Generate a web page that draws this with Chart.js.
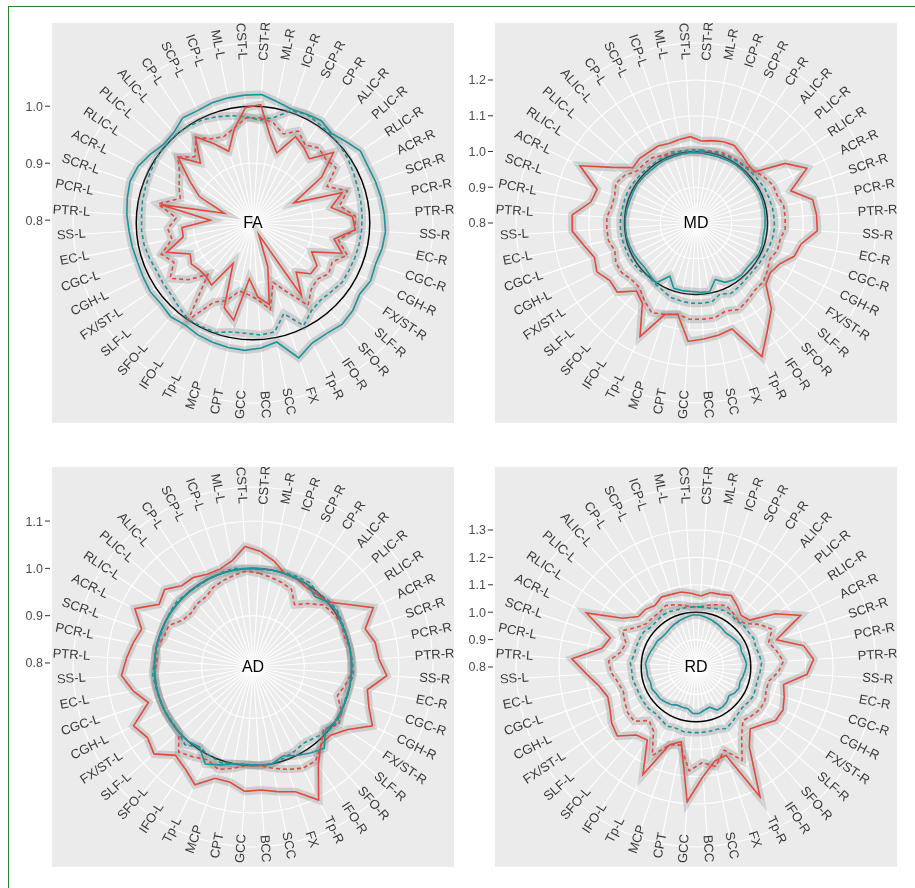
<!DOCTYPE html>
<html>
<head>
<meta charset="utf-8">
<script src="https://cdn.jsdelivr.net/npm/chart.js@4.4.1/dist/chart.umd.min.js"></script>
<style>
  html, body { margin: 0; padding: 0; background: #fff; overflow: hidden; }
  #page { position: relative; width: 915px; height: 888px; overflow: hidden; }
  #frame { position: absolute; left: 8px; top: 6px; width: 1000px; height: 1000px;
           border-left: 1.5px solid #2f7d32; border-top: 1.5px solid #2f7d32; }
  canvas { position: absolute; }
</style>
</head>
<body>
<div id="page">
  <div id="frame"></div>
  <canvas id="fa" width="447" height="400" style="left:7px;top:23px;width:447px;height:400px"></canvas>
  <canvas id="md" width="447" height="400" style="left:450px;top:23px;width:447px;height:400px"></canvas>
  <canvas id="ad" width="447" height="400" style="left:7px;top:467px;width:447px;height:400px"></canvas>
  <canvas id="rd" width="447" height="400" style="left:450px;top:467px;width:447px;height:400px"></canvas>
</div>
<script>
// tracts, clockwise from the top
const LABELS = ['CST-R','ML-R','ICP-R','SCP-R','CP-R','ALIC-R','PLIC-R','RLIC-R','ACR-R','SCR-R',
  'PCR-R','PTR-R','SS-R','EC-R','CGC-R','CGH-R','FX/ST-R','SLF-R','SFO-R','IFO-R','Tp-R',
  'FX','SCC','BCC','GCC','CPT','MCP',
  'Tp-L','IFO-L','SFO-L','SLF-L','FX/ST-L','CGH-L','CGC-L','EC-L','SS-L','PTR-L','PCR-L',
  'SCR-L','ACR-L','RLIC-L','PLIC-L','ALIC-L','CP-L','SCP-L','ICP-L','ML-L','CST-L'];

// FA
const FA_RED = [1.003,0.95,0.925,0.964,0.955,0.945,0.983,0.94,0.875,0.96,0.935,0.97,0.975,0.94,0.96,0.91,
  0.93,0.93,0.91,0.948,0.818,0.876,0.941,0.925,0.893,0.969,0.952,0.874,0.926,0.92,0.92,0.925,0.918,0.955,
  0.92,0.92,0.87,0.96,0.848,0.90,0.929,0.970,0.935,0.977,0.95,0.928,0.963,0.998];
const FA_RED_DASH = [0.98,0.975,0.96,0.975,0.96,0.97,0.965,0.97,0.94,0.97,0.95,0.975,0.975,0.948,0.97,0.95,
  0.955,0.945,0.95,0.969,0.93,0.905,0.95,0.93,0.921,0.917,0.939,0.95,1.0,0.915,0.946,0.97,0.95,0.965,0.94,
  0.945,0.93,0.965,0.93,0.94,0.95,0.97,0.95,0.975,0.96,0.955,0.965,0.98];
const FA_TEAL = [1.021,1.012,1.006,1.008,1.011,1.004,1.012,1.022,1.020,1.022,1.024,1.026,1.028,1.026,1.022,
  1.025,1.020,1.028,1.032,1.028,1.030,1.045,1.008,1.015,1.019,1.018,1.016,1.014,1.010,1.014,1.010,1.012,
  1.010,1.009,1.011,1.013,1.017,1.020,1.023,1.020,1.012,1.004,1.006,1.017,1.015,1.018,1.019,1.020];
const FA_TEAL_DASH = [0.976,0.984,1.003,1.008,1.004,1.002,0.999,0.996,0.992,0.989,0.988,0.987,0.986,0.985,
  0.984,0.983,0.983,0.978,0.975,0.980,0.996,0.963,0.990,0.992,0.989,0.990,0.998,0.998,0.999,0.992,0.986,
  0.985,0.984,0.987,0.990,0.991,0.991,0.993,0.994,0.996,0.999,1.000,1.001,0.999,0.997,0.992,0.987,0.982];
const FA_TICKS = [0.8, 0.9, 1.0];

// MD
const MD_RED = [1.030,1.035,1.040,1.042,1.03,1.02,1.016,1.10,1.146,1.08,1.133,1.138,1.14,1.10,1.09,1.06,
  1.05,1.06,1.12,1.16,1.217,1.113,1.12,1.125,1.132,1.061,1.07,1.154,1.07,1.053,1.093,1.09,1.109,1.10,1.12,
  1.147,1.147,1.10,1.092,1.162,1.08,1.035,1.04,1.038,1.040,1.035,1.038,1.042];
const MD_RED_DASH = [1.00,1.005,1.01,1.01,1.01,1.01,1.02,1.03,1.04,1.04,1.05,1.05,1.05,1.04,1.04,1.03,1.04,
  1.05,1.05,1.06,1.07,1.06,1.07,1.07,1.07,1.06,1.07,1.08,1.06,1.04,1.04,1.05,1.05,1.04,1.05,1.05,1.05,1.04,
  1.04,1.05,1.04,1.02,1.02,1.02,1.01,1.01,1.005,1.00];
const MD_TEAL = [0.996,0.995,0.995,0.996,0.997,0.996,0.995,0.996,0.997,0.996,0.995,0.994,0.993,0.992,0.995,
  0.996,0.992,0.99,0.993,0.991,0.985,0.967,0.996,0.994,0.992,0.993,0.993,0.966,1.002,0.995,0.99,0.992,0.995,
  0.996,0.998,0.998,0.998,0.997,0.995,0.996,0.997,0.995,0.994,0.995,0.996,0.996,0.997,0.998];
const MD_TEAL_DASH = [1.005,1.004,1.005,1.006,1.008,1.008,1.01,1.012,1.015,1.016,1.018,1.019,1.02,1.018,
  1.015,1.012,1.01,1.008,1.01,1.015,1.02,1.01,1.025,1.025,1.025,1.022,1.02,1.01,1.005,1.0,1.005,1.008,1.01,
  1.01,1.012,1.012,1.012,1.01,1.01,1.01,1.008,1.006,1.005,1.005,1.006,1.005,1.005,1.005];
const MD_TICKS = [0.8, 0.9, 1.0, 1.1, 1.2];

// AD
const AD_RED = [1.036,1.02,1.0,0.999,0.994,0.996,1.0,1.03,1.075,1.042,1.055,1.058,1.075,1.038,1.05,1.073,
  1.03,1.01,1.009,1.04,1.105,1.07,1.06,1.052,1.055,1.04,1.04,1.069,1.05,1.04,1.07,1.06,1.073,1.025,1.05,
  1.07,1.06,1.05,1.04,1.07,1.03,1.04,1.02,1.019,1.01,1.01,1.02,1.047];
const AD_RED_DASH = [0.99,0.985,0.98,0.975,0.95,0.97,0.99,0.995,1.0,0.995,1.0,1.0,1.0,0.99,0.98,1.0,1.01,
  0.99,1.01,1.03,1.03,1.02,1.01,1.0,1.0,1.01,1.02,1.01,1.02,1.03,1.0,1.0,1.0,1.0,1.0,1.0,0.995,1.0,0.99,
  0.99,0.97,0.965,0.97,0.97,0.98,0.985,0.99,0.995];
const AD_TEAL = [1.0,1.0,1.0,1.0,1.0,0.99,1.0,1.005,1.0,1.0,1.0,1.0,1.0,1.0,1.0,1.0,1.0,0.995,1.02,1.01,
  1.0,0.99,1.0,1.0,0.998,1.0,1.01,1.02,0.995,1.0,1.0,1.0,1.0,1.0,1.0,1.0,1.0,1.0,1.0,1.0,1.0,1.0,1.0,1.0,
  1.0,1.0,1.0,1.0];
const AD_TEAL_DASH = [0.998,1.0,1.002,1.004,1.006,1.0,1.004,1.006,1.002,1.0,1.0,1.002,1.004,1.0,0.998,1.002,
  1.004,1.0,0.99,0.985,0.99,0.995,1.0,1.0,0.998,1.0,1.005,1.0,0.995,1.01,1.0,0.998,1.0,1.0,1.002,1.004,
  1.0,1.0,0.998,1.0,1.002,1.004,1.0,0.998,1.0,1.002,1.004,1.0];
const AD_TICKS = [0.8, 0.9, 1.0, 1.1];

// RD
const RD_RED = [1.06,1.077,1.08,1.091,1.07,1.05,1.06,1.15,1.226,1.11,1.2,1.23,1.206,1.126,1.14,1.154,1.15,
  1.12,1.10,1.15,1.328,1.14,1.15,1.2,1.293,1.078,1.1,1.238,1.12,1.13,1.182,1.17,1.15,1.14,1.16,1.2,1.254,
  1.15,1.13,1.246,1.12,1.079,1.08,1.07,1.085,1.08,1.079,1.07];
const RD_RED_DASH = [1.02,1.03,1.04,1.05,1.04,1.03,1.04,1.08,1.11,1.08,1.10,1.12,1.10,1.07,1.07,1.08,1.08,
  1.07,1.06,1.10,1.18,1.12,1.17,1.15,1.18,1.09,1.10,1.16,1.08,1.06,1.10,1.10,1.09,1.08,1.09,1.11,1.12,1.08,
  1.07,1.10,1.06,1.04,1.04,1.04,1.05,1.04,1.03,1.02];
const RD_TEAL = [0.99,0.985,0.98,0.975,0.97,0.965,0.97,0.975,0.98,0.975,0.98,0.985,0.98,0.975,0.97,0.975,
  0.97,0.96,0.97,0.975,0.975,0.955,0.96,0.97,0.97,0.955,0.955,0.955,0.965,0.97,0.975,0.975,0.98,0.975,0.98,
  0.98,0.985,0.98,0.975,0.97,0.97,0.965,0.965,0.97,0.975,0.98,0.985,0.99];
const RD_TEAL_DASH = [1.02,1.02,1.025,1.03,1.03,1.025,1.03,1.03,1.035,1.03,1.035,1.04,1.035,1.03,1.03,1.035,
  1.03,1.025,1.03,1.04,1.05,1.04,1.04,1.04,1.04,1.04,1.035,1.04,1.03,1.025,1.03,1.03,1.03,1.03,1.035,1.035,
  1.04,1.03,1.03,1.03,1.03,1.02,1.02,1.025,1.025,1.02,1.02,1.02];
const RD_TICKS = [0.8, 0.9, 1.0, 1.1, 1.2, 1.3];

const REF = 1.0;

const RED = '#E4493B';
const TEAL = '#17969E';
const HALO = 'rgba(130,130,130,0.28)';
const AXIS_W = 45;     // room for the r-axis labels left of the grey panel
const FONT = '"Liberation Sans", Arial, sans-serif';

// leave the start and end of each profile unjoined (ggplot paths are open)
const openSegment = {
  borderColor: c => (c.p1DataIndex === 0 ? 'rgba(0,0,0,0)' : undefined)
};

const panelPlugin = {
  id: 'panel',
  beforeDraw(chart) {
    const ctx = chart.ctx;
    ctx.save();
    ctx.fillStyle = '#EBEBEB';
    ctx.fillRect(AXIS_W, 0, chart.width - AXIS_W, chart.height);
    ctx.restore();
  },
  beforeDatasetsDraw(chart, args, opts) {
    const s = chart.scales.r;
    const ctx = chart.ctx;
    ctx.save();
    ctx.strokeStyle = '#000';
    ctx.lineWidth = 1.5;
    ctx.beginPath();
    ctx.arc(s.xCenter, s.yCenter, s.getDistanceFromCenterForValue(REF), 0, Math.PI * 2);
    ctx.stroke();
    ctx.restore();
  },
  afterDraw(chart, args, opts) {
    const s = chart.scales.r;
    const ctx = chart.ctx;
    ctx.save();
    // tract labels, rotated along the spokes
    ctx.fillStyle = '#3a3a3a';
    ctx.font = '13px ' + FONT;
    ctx.textAlign = 'center';
    ctx.textBaseline = 'middle';
    chart.data.labels.forEach((lab, i) => {
      const a = s.getIndexAngle(i);
      const p = s.getPointPosition(i, s.drawingArea + 2);
      const deg = a * 180 / Math.PI;
      const rot = (deg < 180 ? deg - 90 : deg - 270) * Math.PI / 180;
      ctx.save();
      ctx.translate(p.x, p.y);
      ctx.rotate(rot);
      ctx.fillText(lab, 0, 0);
      ctx.restore();
    });
    // r axis on the left
    ctx.textAlign = 'right';
    ctx.fillStyle = '#4d4d4d';
    ctx.strokeStyle = '#333';
    ctx.lineWidth = 1;
    ctx.font = '12.5px ' + FONT;
    opts.ticks.forEach(v => {
      const y = s.yCenter - s.getDistanceFromCenterForValue(v);
      ctx.fillText(v.toFixed(1), AXIS_W - 9, y + 1);
      ctx.beginPath();
      ctx.moveTo(AXIS_W - 7, y);
      ctx.lineTo(AXIS_W - 2, y);
      ctx.stroke();
    });
    // measure name in the middle
    ctx.textAlign = 'center';
    ctx.fillStyle = '#000';
    ctx.font = '16px ' + FONT;
    ctx.fillText(opts.title, s.xCenter, s.yCenter + 1);
    ctx.restore();
  }
};

function lineSet(data, color, dash, order) {
  return { data, borderColor: color, borderWidth: 1.6, borderDash: dash, pointRadius: 0,
           fill: false, order, segment: openSegment };
}
function haloSet(data, order) {
  return { data, borderColor: HALO, borderWidth: 8, pointRadius: 0, fill: false, order,
           segment: openSegment };
}

function makeRadar(id, title, min, max, ticks, red, redDash, teal, tealDash) {
  new Chart(document.getElementById(id), {
    type: 'radar',
    data: {
      labels: LABELS,
      datasets: [
        lineSet(teal, TEAL, [], 1),
        lineSet(red, RED, [], 2),
        lineSet(tealDash, TEAL, [4, 3], 3),
        lineSet(redDash, RED, [4, 3], 4),
        haloSet(teal, 5), haloSet(red, 6), haloSet(tealDash, 7), haloSet(redDash, 8)
      ]
    },
    options: {
      responsive: false,
      animation: false,
      layout: { padding: { left: AXIS_W + 21, right: 21, top: 20, bottom: 20 } },
      plugins: { legend: { display: false }, tooltip: { enabled: false },
                 panel: { title, ticks } },
      scales: {
        r: {
          min, max,
          startAngle: 3.75,
          afterBuildTicks: sc => { sc.ticks = [min, ...ticks, max].map(v => ({ value: v })); },
          ticks: { display: false },
          pointLabels: { display: false },
          grid: { circular: true, color: '#ffffff', lineWidth: 1.1 },
          angleLines: { color: '#ffffff', lineWidth: 1.1 }
        }
      }
    },
    plugins: [panelPlugin]
  });
}

makeRadar('fa', 'FA', 0.795, 1.111, FA_TICKS, FA_RED, FA_RED_DASH, FA_TEAL, FA_TEAL_DASH);
makeRadar('md', 'MD', 0.800, 1.3035, MD_TICKS, MD_RED, MD_RED_DASH, MD_TEAL, MD_TEAL_DASH);
makeRadar('ad', 'AD', 0.7915, 1.172, AD_TICKS, AD_RED, AD_RED_DASH, AD_TEAL, AD_TEAL_DASH);
makeRadar('rd', 'RD', 0.800, 1.457, RD_TICKS, RD_RED, RD_RED_DASH, RD_TEAL, RD_TEAL_DASH);
</script>
</body>
</html>
